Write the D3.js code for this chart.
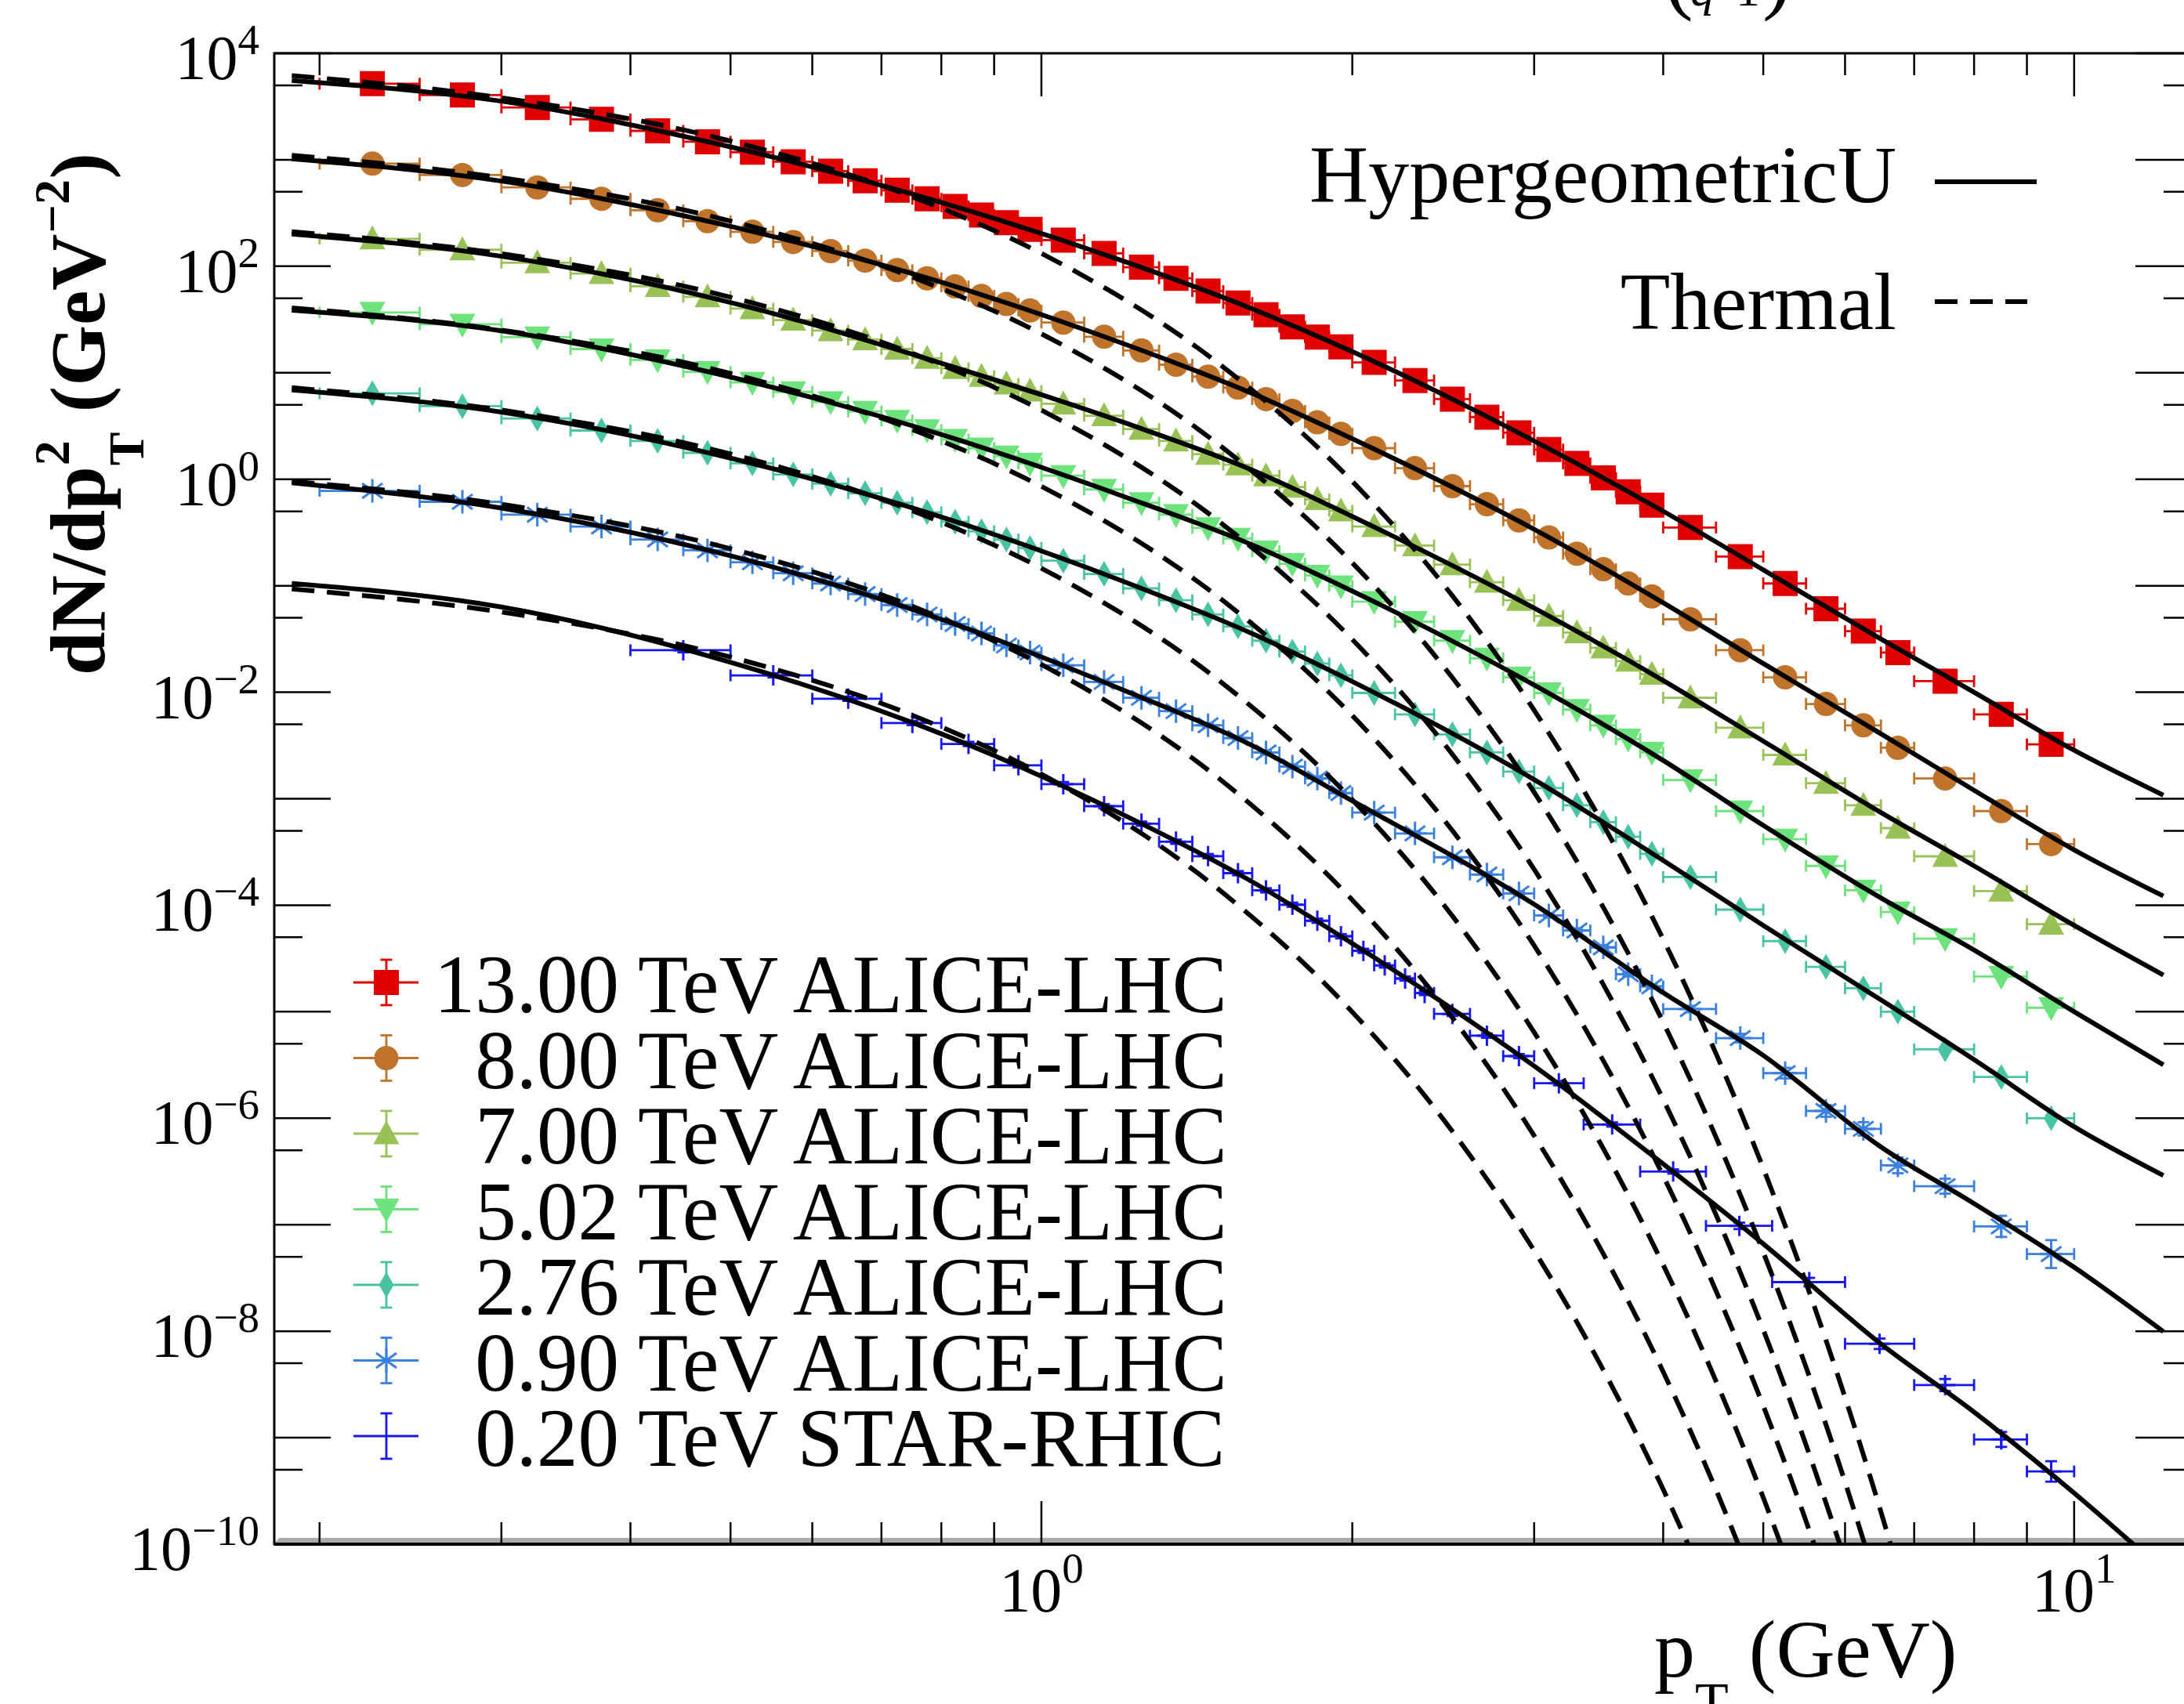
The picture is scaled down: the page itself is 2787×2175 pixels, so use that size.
<!DOCTYPE html>
<html>
<head>
<meta charset="utf-8">
<script src="https://cdn.jsdelivr.net/npm/d3@7"></script>
<style>
  html, body { margin: 0; padding: 0; background: #fff; }
  svg { display: block; }
  text { font-family: "Liberation Serif", "Times New Roman", Times, serif; fill: #000; }
</style>
</head>
<body>
<svg id="chart" width="2787" height="2175"></svg>
<script>
// ---------------- measured spectra ----------------
const pTAlice = [0.225,0.275,0.325,0.375,0.425,0.475,0.525,0.575,0.625,0.675,0.725,0.775,0.825,0.875,0.925,0.975,
  1.05,1.15,1.25,1.35,1.45,1.55,1.65,1.75,1.85,1.95,
  2.1,2.3,2.5,2.7,2.9,3.1,3.3,3.5,3.7,3.9,
  4.25,4.75,5.25,5.75,6.25,6.75,
  7.5,8.5,9.5];
const halfBinAlice = [0.025,0.025,0.025,0.025,0.025,0.025,0.025,0.025,0.025,0.025,0.025,0.025,0.025,0.025,0.025,0.025,
  0.05,0.05,0.05,0.05,0.05,0.05,0.05,0.05,0.05,0.05,
  0.1,0.1,0.1,0.1,0.1,0.1,0.1,0.1,0.1,0.1,
  0.25,0.25,0.25,0.25,0.25,0.25,
  0.5,0.5,0.5];

const dN13 = [5180,4050,3100,2395,1870,1477,1178,959,781,635,517,430,365,303,257,222,
  176,132,98,77.1,58.4,45.2,35.0,27.0,21.6,17.5,
  12.5,8.46,5.66,3.83,2.73,1.90,1.41,1.03,0.762,0.571,
  0.352,0.188,0.105,0.0608,0.0375,0.0236,
  0.0127,0.0062,0.00324];
const dN8 = [920,719,550,430,336,265,211,169,139,113,91.9,77.1,64.8,52.7,44.3,38.4,
  29.6,21.8,16.2,11.9,9.19,7.25,5.66,4.38,3.42,2.67,
  1.96,1.27,0.862,0.583,0.411,0.284,0.200,0.143,0.105,0.0794,
  0.0484,0.0248,0.0138,0.00776,0.00489,0.00301,
  0.00155,7.66e-4,3.75e-4];
const dN7 = [181,143,108,85.5,64.8,51.7,40.0,31.2,24.9,20.5,16.7,13.7,11.0,9.27,7.87,6.74,
  5.11,3.95,2.96,2.29,1.72,1.37,1.08,0.845,0.647,0.505,
  0.360,0.238,0.158,0.108,0.0731,0.0520,0.0363,0.0261,0.0196,0.0148,
  0.00887,0.00464,0.00258,0.0014,8.69e-4,5.3e-4,
  2.88e-4,1.36e-4,6.64e-5];
const dN502 = [36.8,28.5,21.6,16.7,13.2,10.2,8.11,6.61,5.32,4.33,3.56,2.90,2.36,1.96,1.65,1.41,
  1.08,0.802,0.601,0.465,0.349,0.278,0.211,0.161,0.125,0.0995,
  0.0709,0.0460,0.0305,0.0208,0.0138,0.00984,0.00687,0.00489,0.00363,0.00272,
  0.00150,7.66e-4,4.17e-4,2.34e-4,1.38e-4,8.63e-5,
  4.85e-5,2.14e-5,1.09e-5];
const dN276 = [6.41,4.86,3.72,2.87,2.29,1.77,1.41,1.11,0.908,0.739,0.601,0.490,0.399,0.325,0.272,0.226,
  0.172,0.129,0.0945,0.0731,0.0537,0.0415,0.0305,0.0241,0.0186,0.0144,
  0.00984,0.00619,0.00402,0.00272,0.00180,0.00126,8.69e-4,6.02e-4,4.39e-4,3.04e-4,
  1.84e-4,9.1e-5,4.6e-5,2.64e-5,1.66e-5,1.0e-5,
  4.43e-6,2.44e-6,1.0e-6];
const dN090 = [0.778,0.614,0.465,0.360,0.272,0.215,0.166,0.131,0.105,0.0835,0.0659,0.0537,0.0437,0.0356,0.0275,0.0236,
  0.0179,0.0125,0.00887,0.00665,0.00489,0.00371,0.00272,0.00200,0.00155,0.00113,
  7.41e-4,4.72e-4,2.82e-4,1.94e-4,1.29e-4,8.02e-5,5.79e-5,4.02e-5,2.25e-5,1.73e-5,
  1.06e-5,5.65e-6,2.65e-6,1.17e-6,7.94e-7,3.61e-7,
  2.30e-7,9.64e-8,5.30e-8];
// vertical uncertainty of the 0.90 TeV points, in decades (half width)
const errDec090 = [0.02,0.02,0.02,0.02,0.02,0.02,0.02,0.02,0.02,0.02,0.02,0.02,0.02,0.02,0.02,0.02,
  0.02,0.02,0.02,0.02,0.02,0.02,0.02,0.02,0.02,0.02,
  0.02,0.02,0.02,0.02,0.02,0.02,0.02,0.02,0.02,0.02,
  0.03,0.04,0.05,0.055,0.063,0.074,
  0.07,0.099,0.131];
const errDecAlice = 0.02;

const pTStar = [0.45,0.55,0.65,0.75,0.85,0.95,1.05,1.15,1.25,1.35,1.45,1.55,1.65,1.75,1.85,1.95,2.05,2.15,2.25,2.35,
  2.5,2.7,2.9,3.17,3.57,4.09,4.74,5.54,6.48,7.5,8.5,9.5];
const binLoStar = [0.4,0.5,0.6,0.7,0.8,0.9,1.0,1.1,1.2,1.3,1.4,1.5,1.6,1.7,1.8,1.9,2.0,2.1,2.2,2.3,
  2.4,2.6,2.8,3.0,3.35,3.8,4.4,5.1,6.0,7.0,8.0,9.0];
const binHiStar = [0.5,0.6,0.7,0.8,0.9,1.0,1.1,1.2,1.3,1.4,1.5,1.6,1.7,1.8,1.9,2.0,2.1,2.2,2.3,2.4,
  2.6,2.8,3.0,3.35,3.8,4.4,5.1,6.0,7.0,8.0,9.0,10.0];
const dN020 = [0.0248,0.0144,0.00869,0.00514,0.00327,0.00206,0.00137,8.51e-4,5.83e-4,3.95e-4,2.89e-4,2.0e-4,
  1.38e-4,1.01e-4,7.15e-5,5.11e-5,3.73e-5,2.72e-5,2.05e-5,1.50e-5,
  9.54e-6,5.96e-6,3.83e-6,2.13e-6,8.73e-7,3.16e-7,9.75e-8,2.89e-8,7.62e-9,3.12e-9,9.63e-10,4.82e-10];
const errDec020 = [0.02,0.02,0.02,0.02,0.02,0.02,0.02,0.02,0.02,0.02,0.02,0.02,0.02,0.02,0.02,0.02,0.02,0.02,0.02,0.02,
  0.02,0.02,0.02,0.02,0.02,0.02,0.03,0.04,0.049,0.057,0.07,0.096];

// ---------------- HypergeometricU fits (sampled) ----------------
const pFit = [0.188,0.3,0.5,0.8,1.2,1.6,2.0,3.0,4.0,5.0,6.5,8.0,10.0,12.2];
const fit13  = [5.56e3,3.55e3,1.32e3,398,112,39.8,15.8,2.29,0.501,0.141,0.0316,0.0100,2.85e-3,1.08e-3];
const fit8   = [1.02e3,631,237,70.8,18.8,6.40,2.40,0.339,0.0692,0.0186,4.07e-3,1.20e-3,3.31e-4,1.22e-4];
const fit7   = [201,124,45.7,12.3,3.43,1.22,0.447,0.0617,0.0129,3.47e-3,7.41e-4,2.34e-4,6.46e-5,2.21e-5];
const fit502 = [38.7,24.8,9.12,2.63,0.692,0.242,0.0891,0.0117,2.29e-3,5.62e-4,1.17e-4,3.80e-5,1.00e-5,3.17e-6];
const fit276 = [6.89,4.27,1.58,0.442,0.110,0.0355,0.0126,1.51e-3,2.63e-4,6.46e-5,1.29e-5,3.55e-6,8.32e-7,2.90e-7];
const fit090 = [0.927,0.537,0.191,0.0484,0.0105,3.16e-3,9.55e-4,1.02e-4,1.51e-5,3.89e-6,5.37e-7,1.58e-7,3.98e-8,9.91e-9];
const fit020 = [0.105,0.0631,0.0191,4.07e-3,7.08e-4,1.66e-4,4.37e-5,3.09e-6,3.72e-7,6.61e-8,7.59e-9,1.74e-9,3.02e-10,5.62e-11];

// ---------------- Thermal fits (sampled) ----------------
const pTh = [0.188,0.3,0.5,0.75,1.0,1.5,2.0,2.5,3.0,3.5,4.0,4.5,5.0,5.5,6.0,6.5,7.0];
const th13  = [6.17e3,3.82e3,1.50e3,449,132,11.3,0.955,0.0805,6.78e-3,5.70e-4,4.80e-5,4.04e-6,3.39e-7,2.84e-8,2.39e-9,2.01e-10,1.70e-11];
const th8   = [1.10e3,678,266,79.1,23.2,1.96,0.164,0.0137,1.15e-3,9.55e-5,7.96e-6,6.64e-7,5.52e-8,4.59e-9,3.83e-10,3.18e-11];
const th7   = [211,131,51.2,15.2,4.45,0.374,0.0313,2.61e-3,2.17e-4,1.80e-5,1.50e-6,1.24e-7,1.03e-8,8.55e-10,7.10e-11];
const th502 = [40.7,25.2,9.86,2.93,0.857,0.0721,6.03e-3,5.02e-4,4.18e-5,3.47e-6,2.88e-7,2.39e-8,1.99e-9,1.65e-10,1.37e-11];
const th276 = [7.24,4.46,1.73,0.506,0.146,0.0120,9.77e-4,7.93e-5,6.41e-6,5.19e-7,4.20e-8,3.40e-9,2.74e-10,2.21e-11];
const th090 = [0.955,0.582,0.223,0.0641,0.0182,1.44e-3,1.12e-4,8.79e-6,6.86e-7,5.33e-8,4.16e-9,3.24e-10,2.52e-11];
const th020 = [0.0933,0.0566,0.0214,6.08e-3,1.70e-3,1.30e-4,9.93e-6,7.53e-7,5.71e-8,4.33e-9,3.27e-10,2.47e-11];

// ---------------- axis ticks ----------------
const xMajorTicks = [1, 10];
const xMinorTicks = [0.2,0.3,0.4,0.5,0.6,0.7,0.8,0.9,2,3,4,5,6,7,8,9];
const yMajorExp = [-10,-9,-8,-7,-6,-5,-4,-3,-2,-1,0,1,2,3,4];
const yLabelExp = [4,2,0,-2,-4,-6,-8,-10];
const xLabelExp = [0, 1];

// ---------------- series table ----------------
const series = [
  {num: "13.00", exp: "TeV ALICE-LHC", color: "#e00000", shape: "square",  p: pTAlice, v: dN13,  fit: fit13,  th: th13},
  {num: "8.00",  exp: "TeV ALICE-LHC", color: "#c0732b", shape: "circle",  p: pTAlice, v: dN8,   fit: fit8,   th: th8},
  {num: "7.00",  exp: "TeV ALICE-LHC", color: "#98c255", shape: "up",      p: pTAlice, v: dN7,   fit: fit7,   th: th7},
  {num: "5.02",  exp: "TeV ALICE-LHC", color: "#6de37b", shape: "down",    p: pTAlice, v: dN502, fit: fit502, th: th502},
  {num: "2.76",  exp: "TeV ALICE-LHC", color: "#48c3a3", shape: "diamond", p: pTAlice, v: dN276, fit: fit276, th: th276},
  {num: "0.90",  exp: "TeV ALICE-LHC", color: "#3a80de", shape: "star",    p: pTAlice, v: dN090, fit: fit090, th: th090, err: errDec090},
  {num: "0.20",  exp: "TeV STAR-RHIC", color: "#1616f2", shape: "plus",    p: pTStar,  v: dN020, fit: fit020, th: th020, err: errDec020,
   lo: binLoStar, hi: binHiStar}
];

// ---------------- layout ----------------
const svg = d3.select("#chart");
const plot = {left: 350, right: 2797, top: 68, bottom: 1971};
const x = d3.scaleLog().domain([0.1808, 13]).range([plot.left, plot.right]);
const y = d3.scaleLog().domain([1e-10, 1e4]).range([plot.bottom, plot.top]);

svg.append("rect").attr("width", 2787).attr("height", 2175).attr("fill", "#fff");

svg.append("defs").append("clipPath").attr("id", "plotClip")
  .append("rect").attr("x", plot.left).attr("y", plot.top)
  .attr("width", plot.right - plot.left).attr("height", plot.bottom - plot.top);

// grey rim along the bottom axis
svg.append("path")
  .attr("d", `M${plot.left},${plot.bottom - 1}L${plot.left + 6},${plot.bottom - 8}L${plot.right},${plot.bottom - 8}L${plot.right},${plot.bottom - 1}Z`)
  .attr("fill", "#ababab");

// ticks
const tickG = svg.append("g").attr("stroke", "#000").attr("stroke-width", 2.5);
const xMajLen = 55, xMinLen = 28, yMajLen = 72, yMinLen = 36;
xMajorTicks.forEach(t => {
  const px = x(t);
  tickG.append("line").attr("x1", px).attr("x2", px).attr("y1", plot.bottom).attr("y2", plot.bottom - xMajLen);
  tickG.append("line").attr("x1", px).attr("x2", px).attr("y1", plot.top).attr("y2", plot.top + xMajLen);
});
xMinorTicks.forEach(t => {
  const px = x(t);
  tickG.append("line").attr("x1", px).attr("x2", px).attr("y1", plot.bottom).attr("y2", plot.bottom - xMinLen);
  tickG.append("line").attr("x1", px).attr("x2", px).attr("y1", plot.top).attr("y2", plot.top + xMinLen);
});
yMajorExp.forEach(e => {
  const py = y(Math.pow(10, e));
  tickG.append("line").attr("x1", plot.left).attr("x2", plot.left + yMajLen).attr("y1", py).attr("y2", py);
  tickG.append("line").attr("x1", plot.right).attr("x2", plot.right - yMajLen).attr("y1", py).attr("y2", py);
  if (e < 4) {
    const pm = y(5 * Math.pow(10, e));
    tickG.append("line").attr("x1", plot.left).attr("x2", plot.left + yMinLen).attr("y1", pm).attr("y2", pm);
    tickG.append("line").attr("x1", plot.right).attr("x2", plot.right - yMinLen).attr("y1", pm).attr("y2", pm);
  }
});

// frame
svg.append("rect").attr("x", plot.left).attr("y", plot.top)
  .attr("width", plot.right - plot.left).attr("height", plot.bottom - plot.top)
  .attr("fill", "none").attr("stroke", "#000").attr("stroke-width", 3);
svg.append("line").attr("x1", plot.left).attr("x2", plot.right).attr("y1", plot.bottom).attr("y2", plot.bottom)
  .attr("stroke", "#000").attr("stroke-width", 4);

// tick labels
xLabelExp.forEach(e => {
  const t = svg.append("text").attr("x", x(Math.pow(10, e))).attr("y", 2057)
    .attr("text-anchor", "middle").attr("font-size", 80);
  t.append("tspan").text("10");
  t.append("tspan").attr("dy", -37).attr("font-size", 55).text(String(e));
});
yLabelExp.forEach(e => {
  const t = svg.append("text").attr("x", 331).attr("y", y(Math.pow(10, e)) + 33)
    .attr("text-anchor", "end").attr("font-size", 80);
  t.append("tspan").text("10");
  t.append("tspan").attr("dy", -32).attr("font-size", 55).text(e < 0 ? "\u2212" + Math.abs(e) : String(e));
});

// markers
const markerPath = {
  square: "M-16,-16H16V16H-16Z",
  circle: d3.symbol(d3.symbolCircle, Math.PI * 15.5 * 15.5)(),
  up: "M0,-17L16.5,13.5L-16.5,13.5Z",
  down: "M0,17L16.5,-13.5L-16.5,-13.5Z",
  diamond: "M0,-16.5L9.5,0L0,16.5L-9.5,0Z",
  star: "M0,-15V15M-13,-9.5L13,9.5M-13,9.5L13,-9.5M-15,0H15",
  plus: "M0,-13V13M-13,0H13"
};
const strokeOnly = s => s === "star" || s === "plus";

function drawMarker(g, shape, color, cx, cy) {
  const m = g.append("path").attr("d", markerPath[shape]).attr("transform", `translate(${cx},${cy})`);
  if (strokeOnly(shape)) m.attr("fill", "none").attr("stroke", color).attr("stroke-width", 3);
  else m.attr("fill", color).attr("stroke", "none");
}

// data points with error bars
const dataG = svg.append("g").attr("clip-path", "url(#plotClip)");
const cap = 7.5;
series.forEach(s => {
  const g = dataG.append("g");
  s.p.forEach((p, i) => {
    const v = s.v[i];
    const lo = s.lo ? s.lo[i] : p - halfBinAlice[i];
    const hi = s.hi ? s.hi[i] : p + halfBinAlice[i];
    const e = s.err ? s.err[i] : errDecAlice;
    const cx = x(p), cy = y(v);
    const x0 = x(lo), x1 = x(hi);
    const yTop = y(v * Math.pow(10, e)), yBot = y(v / Math.pow(10, e));
    const eb = g.append("g").attr("stroke", s.color).attr("stroke-width", 2.8).attr("fill", "none");
    eb.append("line").attr("x1", x0).attr("x2", x1).attr("y1", cy).attr("y2", cy);
    eb.append("line").attr("x1", x0).attr("x2", x0).attr("y1", cy - cap).attr("y2", cy + cap);
    eb.append("line").attr("x1", x1).attr("x2", x1).attr("y1", cy - cap).attr("y2", cy + cap);
    eb.append("line").attr("x1", cx).attr("x2", cx).attr("y1", yTop).attr("y2", yBot);
    eb.append("line").attr("x1", cx - cap).attr("x2", cx + cap).attr("y1", yTop).attr("y2", yTop);
    eb.append("line").attr("x1", cx - cap).attr("x2", cx + cap).attr("y1", yBot).attr("y2", yBot);
    drawMarker(g, s.shape, s.color, cx, cy);
  });
});

// model curves
const curveG = svg.append("g").attr("clip-path", "url(#plotClip)").attr("fill", "none")
  .attr("stroke", "#000").attr("stroke-width", 6);
const line = d3.line().x(d => x(d[0])).y(d => y(d[1])).curve(d3.curveMonotoneX);
series.forEach(s => {
  curveG.append("path").attr("d", line(s.th.map((v, i) => [pTh[i], v])))
    .attr("stroke-dasharray", "29,16");
});
series.forEach(s => {
  curveG.append("path").attr("d", line(s.fit.map((v, i) => [pFit[i], v])));
});

// legend: data sets
const legX = 493, legY0 = 1254, legDy = 96.5;
series.forEach((s, i) => {
  const cy = legY0 + i * legDy;
  const g = svg.append("g");
  const eb = g.append("g").attr("stroke", s.color).attr("stroke-width", 2.8);
  eb.append("line").attr("x1", legX - 42).attr("x2", legX + 41).attr("y1", cy).attr("y2", cy);
  eb.append("line").attr("x1", legX).attr("x2", legX).attr("y1", cy - 29).attr("y2", cy + 29);
  eb.append("line").attr("x1", legX - cap).attr("x2", legX + cap).attr("y1", cy - 29).attr("y2", cy - 29);
  eb.append("line").attr("x1", legX - cap).attr("x2", legX + cap).attr("y1", cy + 29).attr("y2", cy + 29);
  if (s.shape !== "plus") drawMarker(g, s.shape, s.color, legX, cy);
  g.append("text").attr("x", 790).attr("y", cy + 38).attr("text-anchor", "end").attr("font-size", 105).text(s.num);
  g.append("text").attr("x", 814).attr("y", cy + 38).attr("font-size", 105).text(s.exp);
});

// legend: model curves
const modelLegend = [
  {name: "HypergeometricU", y: 258, dash: null},
  {name: "Thermal", y: 420, dash: "29,16"}
];
modelLegend.forEach(m => {
  svg.append("text").attr("x", 2420).attr("y", m.y).attr("text-anchor", "end").attr("font-size", 104).text(m.name);
  const l = svg.append("line").attr("x1", 2469).attr("x2", m.dash ? 2587 : 2599)
    .attr("y1", m.y - 26 - (m.dash ? 9 : 0)).attr("y2", m.y - 26 - (m.dash ? 9 : 0))
    .attr("stroke", "#000").attr("stroke-width", 6);
  if (m.dash) l.attr("stroke-dasharray", m.dash);
});

// axis titles
const xt = svg.append("text").attr("x", 2111).attr("y", 2140).attr("font-size", 104);
xt.append("tspan").text("p");
xt.append("tspan").attr("font-size", 70).attr("dy", 56).text("T");
xt.append("tspan").attr("font-size", 104).attr("dy", -56).text(" (GeV)");

const yt = svg.append("g").attr("transform", "translate(133,862) rotate(-90)")
  .attr("font-weight", "bold");
const yt1 = yt.append("text").attr("font-size", 100).text("dN/dp");
const w1 = yt1.node().getComputedTextLength();
yt.append("text").attr("x", w1 + 1).attr("y", -45).attr("font-size", 64).text("2");
yt.append("text").attr("x", w1 + 1).attr("y", 50).attr("font-size", 64).text("T");
const yt2 = yt.append("text").attr("x", w1 + 44).attr("font-size", 100).text("\u00a0(GeV");
const w2 = yt2.node().getComputedTextLength();
yt.append("text").attr("x", w1 + 44 + w2 + 1).attr("y", -45).attr("font-size", 64).text("\u22122");
yt.append("text").attr("x", w1 + 44 + w2 + 70).attr("font-size", 100).text(")");

// fragment of the formula above the frame
const ft = svg.append("g");
ft.append("text").attr("x", 2124).attr("y", 4).attr("font-size", 110).text("(");
ft.append("text").attr("x", 2157).attr("y", 7).attr("font-size", 62).attr("font-style", "italic").text("q");
ft.append("text").attr("x", 2180).attr("y", 7).attr("font-size", 62).text("\u22121");
ft.append("text").attr("x", 2249).attr("y", 4).attr("font-size", 110).text(")");
ft.append("text").attr("x", 2316).attr("y", -6).attr("font-size", 62).text("\u00b7");
ft.append("text").attr("x", 2356).attr("y", -14).attr("font-size", 62).attr("fill", "#999").text("\u2212");
</script>
</body>
</html>
